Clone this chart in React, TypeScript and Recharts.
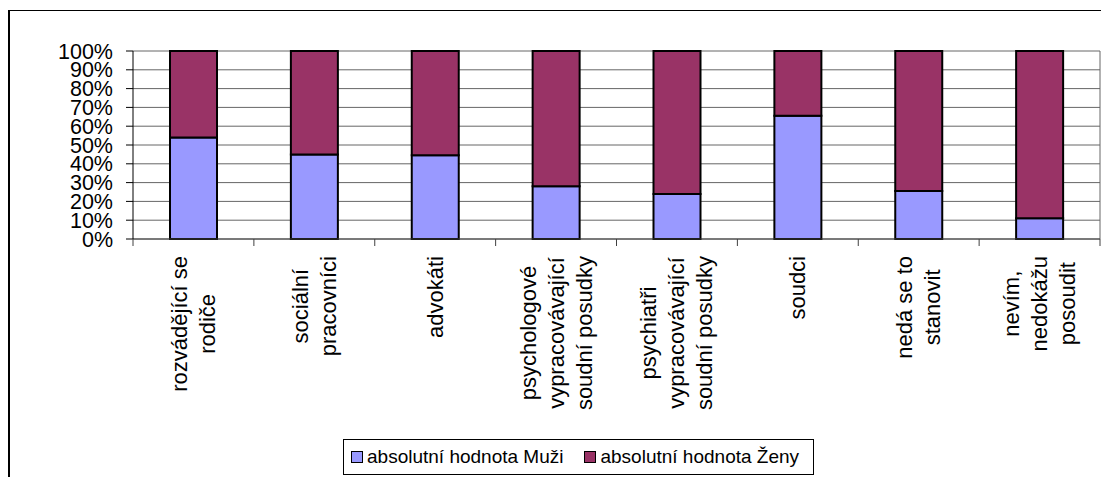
import React from 'react';
import { BarChart, Bar, XAxis, YAxis, CartesianGrid, Legend } from 'recharts';

const categories = [
  'rozvádějící se\nrodiče',
  'sociální\npracovníci',
  'advokáti',
  'psychologové\nvypracovávající\nsoudní posudky',
  'psychiatři\nvypracovávající\nsoudní posudky',
  'soudci',
  'nedá se to\nstanovit',
  'nevím,\nnedokážu\nposoudit',
];

const muzi = [54, 45, 44.5, 28, 24, 65.5, 25.5, 11];
const zeny = [46, 55, 55.5, 72, 76, 34.5, 74.5, 89];

const yTicks = [0, 10, 20, 30, 40, 50, 60, 70, 80, 90, 100];

const data = categories.map((name, i) => ({ name, muzi: muzi[i], zeny: zeny[i] }));

const FONT = "'Liberation Sans', Arial, sans-serif";
const W = 1101;
const H = 469;
const M = { top: 43, right: 9, bottom: 38, left: 0 };
const Y_WIDTH = 125;
const PLOT_W = W - Y_WIDTH - M.right;

let ctx: CanvasRenderingContext2D | null = null;
const textWidth = (s: string) => {
  if (!ctx) {
    ctx = document.createElement('canvas').getContext('2d');
  }
  if (!ctx) return s.length * 11;
  ctx.font = `22px "Liberation Sans"`;
  return ctx.measureText(s).width;
};

// category labels: rotated, lines centred, ticks sit between categories
const CategoryTick = (props: any) => {
  const { x, y, payload, index } = props;
  const half = PLOT_W / categories.length / 2;
  const lines = String(payload.value).split('\n');
  const maxW = Math.max(...lines.map(textWidth));
  const cy = y + 17 + maxW / 2;
  const lh = 28;
  return (
    <g>
      <line x1={x + half} x2={x + half} y1={y} y2={y + 7} stroke="#404040" />
      {index === 0 && <line x1={x - half} x2={x - half} y1={y} y2={y + 7} stroke="#404040" />}
      {lines.map((ln, i) => {
        const cx = x + (i - (lines.length - 1) / 2) * lh;
        return (
          <text
            key={i}
            x={cx}
            y={cy}
            transform={`rotate(-90 ${cx} ${cy})`}
            textAnchor="middle"
            dominantBaseline="central"
            fontSize={22}
            fontFamily={FONT}
            fill="#000"
          >
            {ln}
          </text>
        );
      })}
    </g>
  );
};

const LegendBox = ({ payload }: any) => (
  <div
    style={{
      border: '1px solid #000',
      height: 36,
      boxSizing: 'border-box',
      display: 'flex',
      alignItems: 'center',
      paddingLeft: 7,
      fontFamily: FONT,
      fontSize: 19,
      color: '#000',
      background: '#fff',
      whiteSpace: 'nowrap',
    }}
  >
    {(payload || []).map((p: any, i: number) => (
      <span key={i} style={{ display: 'flex', alignItems: 'center', marginRight: 21 }}>
        <span
          style={{
            width: 12,
            height: 12,
            background: p.color,
            border: '1px solid #000',
            boxSizing: 'border-box',
            marginRight: 4,
          }}
        />
        {p.value}
      </span>
    ))}
  </div>
);

const App = () => {
  return (
    <div style={{ position: 'relative', width: W, height: H }}>
      <style>{'html,body{overflow:hidden}'}</style>
      <div
        style={{
          position: 'absolute',
          top: 2,
          left: 0,
          width: W,
          height: 470,
          boxSizing: 'border-box',
          borderTop: '1px solid #000',
          borderLeft: '2px solid #000',
        }}
      />
      <BarChart width={W} height={H} data={data} margin={M} stackOffset="expand" barSize={47}>
        <CartesianGrid
          stroke="#666"
          horizontal
          vertical
          verticalPoints={[W - M.right]}
        />
        <XAxis
          dataKey="name"
          interval={0}
          height={200}
          tickSize={0}
          tickMargin={0}
          tickLine={false}
          axisLine={{ stroke: '#404040' }}
          tick={<CategoryTick />}
        />
        <YAxis
          width={Y_WIDTH}
          domain={[0, 1]}
          ticks={yTicks.map((v) => v / 100)}
          tickFormatter={(v: number) => `${Math.round(v * 100)}%`}
          tickSize={7}
          tickMargin={13}
          axisLine={{ stroke: '#000' }}
          tickLine={{ stroke: '#000' }}
          tick={{ fontSize: 21.5, fill: '#000', fontFamily: FONT }}
          interval={0}
        />
        <Legend
          layout="horizontal"
          verticalAlign="middle"
          align="center"
          wrapperStyle={{ top: 431, left: 335, width: 471, height: 36 }}
          content={<LegendBox />}
        />
        <Bar dataKey="muzi" name="absolutní hodnota Muži" stackId="a" fill="#9999FF" stroke="#000" strokeWidth={2} isAnimationActive={false} />
        <Bar dataKey="zeny" name="absolutní hodnota Ženy" stackId="a" fill="#993366" stroke="#000" strokeWidth={2} isAnimationActive={false} />
      </BarChart>
    </div>
  );
};

export default App;
